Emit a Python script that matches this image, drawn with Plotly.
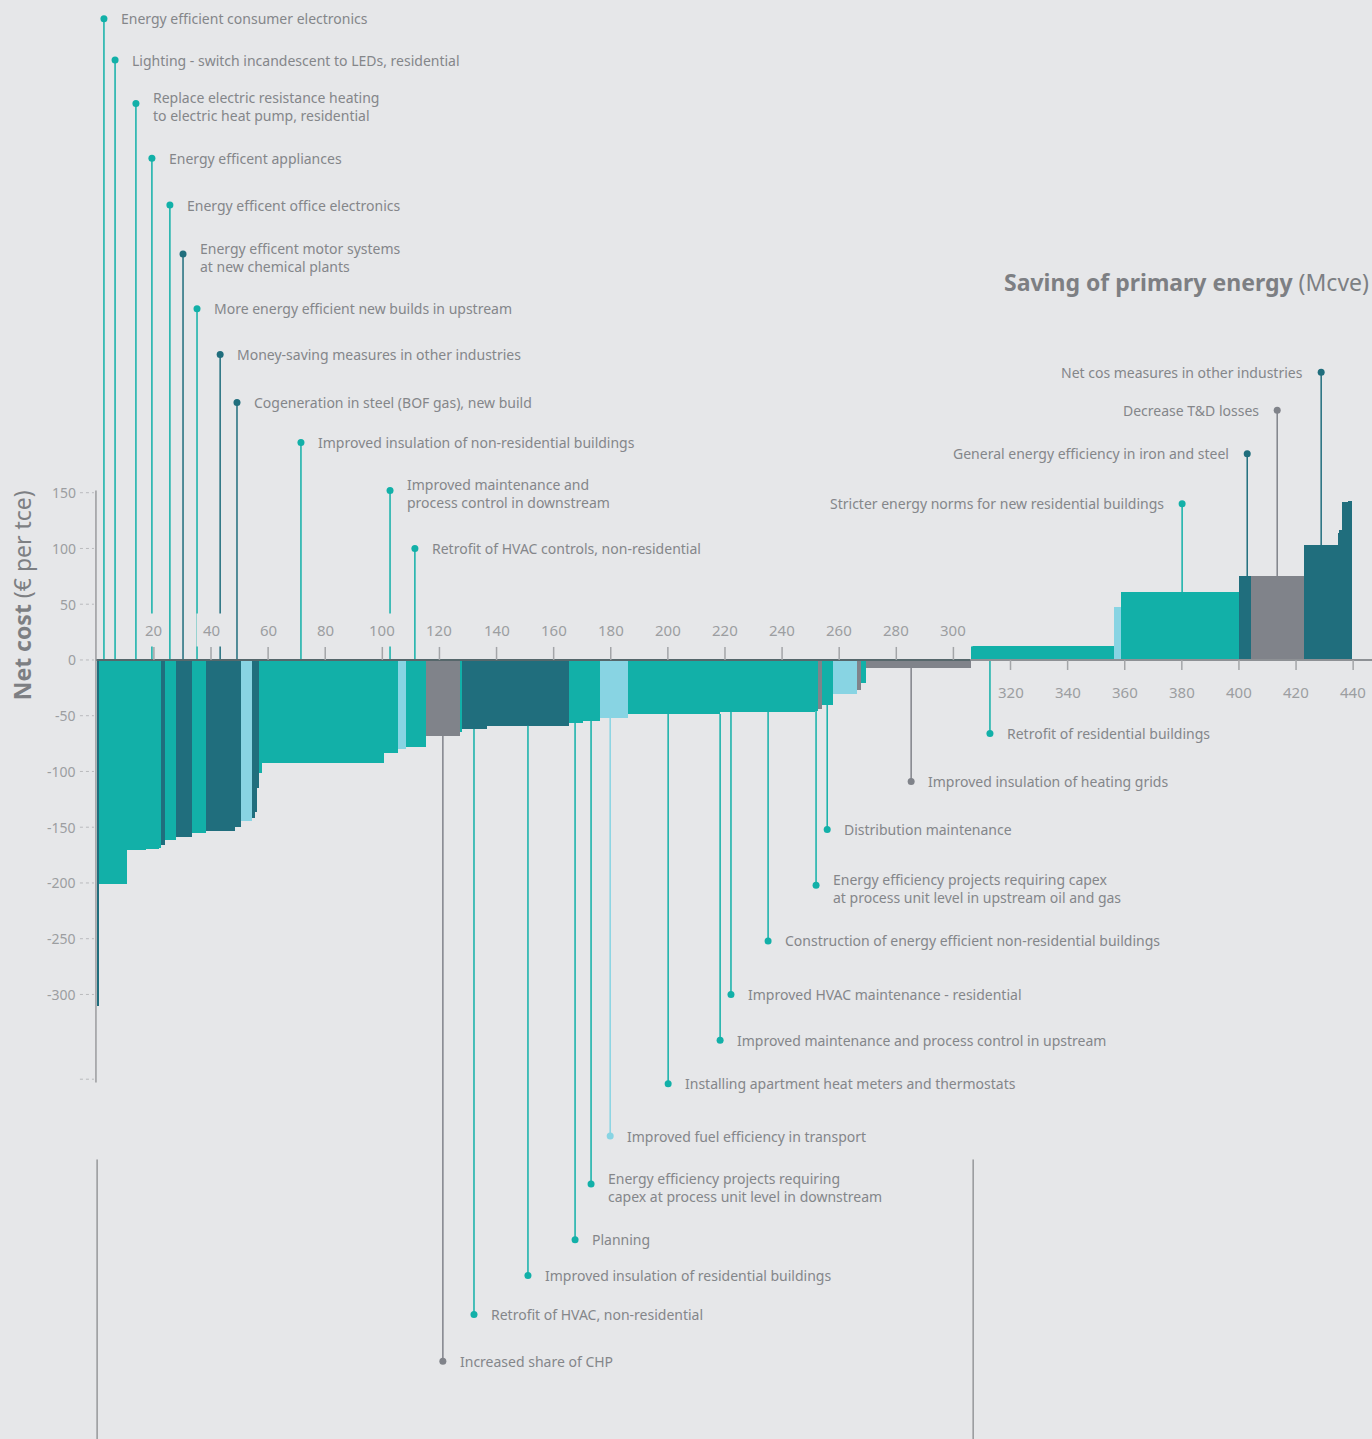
import plotly.graph_objects as go

BG = "#e6e7e9"
PALETTE = {"teal": "#12b0a8", "dark": "#206e7d", "light": "#88d4e3", "grey": "#80838a"}
TEXT = "#84868a"
FONT = "Noto Sans"

# cost curve bars, left to right: width (Mcve), net cost (EUR per tce), colour group
bar_width = [0.8, 9.8, 6.6, 4.6, 0.8, 1.3, 3.8, 5.5, 5.0, 10.2, 2.1, 3.9, 1.0, 0.7, 0.7, 1.1,
             42.7, 4.9, 2.8, 7.0, 11.9, 0.7, 8.8, 28.7, 4.9, 5.9, 9.8, 32.3, 33.3, 1.0, 1.4,
             3.9, 8.4, 1.4, 1.7, 36.8, 50.1, 2.4, 41.3, 4.3, 18.5, 12.0, 0.3, 1.0, 2.1, 1.4]
bar_cost = [-310, -201, -170, -169.5, -168.6, -166, -161.4, -158.7, -155, -153, -150, -144,
            -141.7, -136, -115, -101, -92, -83, -80, -78, -68, -64.6, -62, -59, -56.5, -54.7,
            -52, -48.4, -46.6, -45.7, -44, -40.4, -30.5, -27, -20.6, -7.2, 12.6, 47.5, 61,
            75.3, 75.3, 103, 114, 116.6, 141.7, 142.6]
bar_kind = ["dark", "teal", "teal", "teal", "teal", "dark", "teal", "dark", "teal", "dark",
            "dark", "light", "dark", "dark", "dark", "teal", "teal", "teal", "light", "teal",
            "grey", "teal", "dark", "dark", "teal", "teal", "light", "teal", "teal", "teal",
            "grey", "teal", "light", "grey", "teal", "grey", "teal", "light", "teal", "dark",
            "grey", "dark", "dark", "dark", "dark", "dark"]

# call-outs: text, stem x (Mcve), dot level (EUR per tce), colour, side of text
label_text = [
    "Energy efficient consumer electronics",
    "Lighting - switch incandescent to LEDs, residential",
    "Replace electric resistance heating<br>to electric heat pump, residential",
    "Energy efficent appliances",
    "Energy efficent office electronics",
    "Energy efficent motor systems<br>at new chemical plants",
    "More energy efficient new builds in upstream",
    "Money-saving measures in other industries",
    "Cogeneration in steel (BOF gas), new build",
    "Improved insulation of non-residential buildings",
    "Improved maintenance and<br>process control in downstream",
    "Retrofit of HVAC controls, non-residential",
    "Increased share of CHP",
    "Retrofit of HVAC, non-residential",
    "Improved insulation of residential buildings",
    "Planning",
    "Energy efficiency projects requiring<br>capex at process unit level in downstream",
    "Improved fuel efficiency in transport",
    "Installing apartment heat meters and thermostats",
    "Improved maintenance and process control in upstream",
    "Improved HVAC maintenance - residential",
    "Construction of energy efficient non-residential buildings",
    "Energy efficiency projects requiring capex<br>at process unit level in upstream oil and gas",
    "Distribution maintenance",
    "Improved insulation of heating grids",
    "Retrofit of residential buildings",
    "Stricter energy norms for new residential buildings",
    "General energy efficiency in iron and steel",
    "Decrease T&D losses",
    "Net cos measures in other industries",
]
label_x = [2.5, 6.4, 13.7, 19.3, 25.6, 30.2, 35.1, 43.2, 49.1, 71.5, 102.7, 111.4,
           121.2, 132.1, 151.0, 167.5, 173.1, 179.8, 200.1, 218.3, 222.1, 235.1, 251.9,
           255.8, 285.2, 312.8, 380.1, 402.9, 413.4, 428.8]
label_y = [575, 538, 499, 450, 408, 364, 315, 274, 231, 195, 152, 100,
           -629, -587, -552, -520, -470, -427, -380, -341, -300, -252, -202,
           -152, -109, -66, 140, 185, 224, 258]
label_kind = ["teal", "teal", "teal", "teal", "teal", "dark", "teal", "dark", "dark", "teal",
              "teal", "teal", "grey", "teal", "teal", "teal", "teal", "light", "teal", "teal",
              "teal", "teal", "teal", "teal", "grey", "teal", "teal", "dark", "grey", "dark"]
label_side = ["right"] * 26 + ["left"] * 4

x_ticks_above = [20, 40, 60, 80, 100, 120, 140, 160, 180, 200, 220, 240, 260, 280, 300]
x_ticks_below = [320, 340, 360, 380, 400, 420, 440]
y_ticks = [150, 100, 50, 0, -50, -100, -150, -200, -250, -300]

fig = go.Figure()

starts = []
pos = 0.0
for w in bar_width:
    starts.append(pos)
    pos += w
centers = [s + w / 2 for s, w in zip(starts, bar_width)]

fig.add_trace(go.Bar(
    x=centers, y=bar_cost, width=bar_width,
    marker=dict(color=[PALETTE[k] for k in bar_kind], line=dict(width=0)),
    hoverinfo="skip", showlegend=False,
))


def cost_at(x):
    for s, w, c in zip(starts, bar_width, bar_cost):
        if s <= x < s + w:
            return c
    return 0


# stems and dots, one trace per colour
for kind, col in PALETTE.items():
    sx, sy, dx, dy = [], [], [], []
    for x, y, k in zip(label_x, label_y, label_kind):
        if k != kind:
            continue
        c = cost_at(x)
        start = c if (c < 0) == (y < 0) else 0
        sx += [x, x, None]
        sy += [start, y, None]
        dx.append(x)
        dy.append(y)
    if not dx:
        continue
    fig.add_trace(go.Scatter(x=sx, y=sy, mode="lines", line=dict(color=col, width=1.5),
                             hoverinfo="skip", showlegend=False))
    fig.add_trace(go.Scatter(x=dx, y=dy, mode="markers", marker=dict(color=col, size=7),
                             hoverinfo="skip", showlegend=False))

for t, x, y, side in zip(label_text, label_x, label_y, label_side):
    multi = "<br>" in t
    fig.add_annotation(
        x=x, y=y, text=t, showarrow=False, align="left",
        xanchor="left" if side == "right" else "right",
        xshift=15 if side == "right" else -16,
        yshift=-3 if multi else 0,
        font=dict(family=FONT, size=14, color=TEXT),
    )

# axes drawn by hand
shapes = [
    dict(type="line", x0=-0.3, x1=306, y0=0, y1=0, line=dict(color="#56676b", width=2)),
    dict(type="line", x0=306, x1=447, y0=0, y1=0, line=dict(color="#8e9195", width=2)),
    dict(type="line", x0=-0.3, x1=-0.3, y0=152, y1=-379, line=dict(color="#9a9b9e", width=1.5)),
    dict(type="line", x0=0.1, x1=0.1, y0=-448, y1=-700, line=dict(color="#6e7073", width=1)),
    dict(type="line", x0=306.9, x1=306.9, y0=-448, y1=-700, line=dict(color="#6e7073", width=1)),
]
for v in y_ticks + [-376]:
    shapes.append(dict(type="line", x0=-5.9, x1=-1.0, y0=v, y1=v,
                       line=dict(color="#b9babd", width=1, dash="dot")))
for v in x_ticks_above:
    shapes.append(dict(type="line", x0=v, x1=v, y0=0, y1=11.7, line=dict(color="#a3a5a8", width=1.5)))
for v in x_ticks_below:
    shapes.append(dict(type="line", x0=v, x1=v, y0=0, y1=-9, line=dict(color="#a3a5a8", width=1.5)))
fig.update_layout(shapes=shapes)

for v in x_ticks_above:
    fig.add_annotation(x=v, y=26.9, text=str(v), showarrow=False, bgcolor=BG, borderpad=6,
                       font=dict(family=FONT, size=15, color="#9c9ea1"))
for v in x_ticks_below:
    fig.add_annotation(x=v, y=-28.7, text=str(v), showarrow=False,
                       font=dict(family=FONT, size=15, color="#9c9ea1"))
for v in y_ticks:
    fig.add_annotation(x=-6.6, y=v, text=str(v), showarrow=False, xanchor="right",
                       font=dict(family=FONT, size=14, color="#9c9ea1"))

fig.add_annotation(x=-26.2, y=58, text="<b>Net cost</b> (€ per tce)", textangle=-90,
                   showarrow=False, font=dict(family=FONT, size=23, color="#7d7f83"))
fig.add_annotation(x=1, xref="paper", y=339, text="<b>Saving of primary energy</b> (Mcve)",
                   xanchor="right", xshift=-1, showarrow=False,
                   font=dict(family=FONT, size=23, color="#7d7f83"))

fig.update_layout(
    width=1372, height=1439,
    margin=dict(l=0, r=0, t=0, b=0),
    paper_bgcolor=BG, plot_bgcolor=BG,
    xaxis=dict(range=[-33.9, 446.6], visible=False, fixedrange=True),
    yaxis=dict(range=[-698.7, 591.9], visible=False, fixedrange=True),
    bargap=0,
)

fig.write_html("out.html", config={"displayModeBar": False},
               post_script="document.body.style.margin='0';")
